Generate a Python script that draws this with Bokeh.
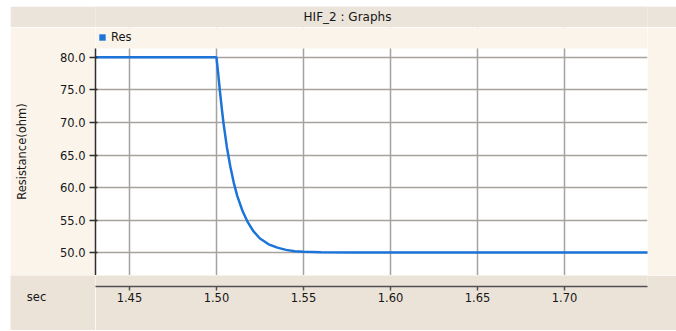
from bokeh.plotting import figure
from bokeh.layouts import column, row
from bokeh.models import Range1d, FixedTicker, Grid, Legend, LegendItem, Spacer
from bokeh.core.properties import value
from bokeh.embed import file_html
from bokeh.resources import INLINE

# ---- data ----
chart_title = "HIF_2 : Graphs"
series_name = "Res"
y_label = "Resistance(ohm)"
x_unit = "sec"

time_s = [1.430, 1.500, 1.501, 1.502, 1.503, 1.504, 1.506, 1.508, 1.510, 1.512,
          1.515, 1.518, 1.521, 1.525, 1.530, 1.535, 1.540, 1.545, 1.550, 1.560,
          1.580, 1.600, 1.650, 1.700, 1.748]
resistance = [80.0, 80.0, 77.5, 74.8, 72.3, 70.0, 66.2, 63.2, 60.7, 58.7,
              56.4, 54.7, 53.4, 52.2, 51.3, 50.8, 50.45, 50.25, 50.15, 50.08,
              50.05, 50.05, 50.05, 50.05, 50.05]

x_ticks = [1.45, 1.50, 1.55, 1.60, 1.65, 1.70]
x_tick_labels = ["1.45", "1.50", "1.55", "1.60", "1.65", "1.70"]
y_ticks = [50, 55, 60, 65, 70, 75, 80]
y_tick_labels = ["50.0", "55.0", "60.0", "65.0", "70.0", "75.0", "80.0"]

x_start, x_end = 1.4305, 1.7477
y_start, y_end = 46.52, 81.33      # white plotting area
y_frame_top = 84.56                # extra band above it, holding the legend

# ---- style ----
FONT_NAME = "DejaVu Sans"
FONT = value(FONT_NAME)
LINE_BLUE = "#1c74d9"
GRID = "#a6a29d"
CREAM = "#fbf4ea"
BEIGE = "#ebe3d8"
TITLEBAR = "#ebe4da"
TXT = "#161616"
W = 666
BL, BR = 85, 29

# ---- title bar ----
tb = figure(width=W, height=21, x_range=(0, 1), y_range=(0, 1),
            x_axis_location=None, y_axis_location=None,
            output_backend="svg", toolbar_location=None,
            min_border_left=BL, min_border_right=BR,
            min_border_top=0, min_border_bottom=0)
tb.outline_line_color = None
tb.background_fill_color = TITLEBAR
tb.border_fill_color = TITLEBAR
tb.xgrid.visible = False
tb.ygrid.visible = False
tb.text(x=[0.4565], y=[0.5], text=[chart_title], text_align="center",
        text_baseline="middle", text_font=FONT, text_font_size="12px",
        text_color=TXT)

# ---- main plot ----
xr = Range1d(x_start, x_end)
p = figure(width=W, height=248, x_range=xr, y_range=Range1d(y_start, y_frame_top),
           x_axis_location=None, y_axis_location="left",
           output_backend="svg", toolbar_location=None,
           min_border_left=BL, min_border_right=BR,
           min_border_top=0, min_border_bottom=0)
p.outline_line_color = None
p.background_fill_color = "white"
p.border_fill_color = CREAM
p.xgrid.visible = False

yax = p.yaxis[0]
yax.bounds = (y_start, y_end)
yax.ticker = FixedTicker(ticks=y_ticks)
yax.major_label_overrides = {t: l for t, l in zip(y_ticks, y_tick_labels)}
yax.minor_tick_line_color = None
yax.major_tick_out = 6
yax.major_tick_in = 2
yax.axis_line_color = "#2e2e2e"
yax.axis_line_width = 1.5
yax.major_tick_line_color = "#2e2e2e"
yax.major_tick_line_width = 1.5
yax.major_label_text_font = FONT_NAME
yax.major_label_text_font_size = "11.5px"
yax.major_label_text_color = TXT
yax.major_label_standoff = 4
yax.axis_label = y_label
yax.axis_label_text_font = FONT_NAME
yax.axis_label_text_font_size = "11.5px"
yax.axis_label_text_font_style = "normal"
yax.axis_label_text_color = TXT
yax.axis_label_standoff = 28

p.ygrid.ticker = FixedTicker(ticks=y_ticks)
p.ygrid.grid_line_color = GRID
p.ygrid.grid_line_width = 1.5
p.add_layout(Grid(dimension=0, ticker=FixedTicker(ticks=x_ticks),
                  grid_line_color=GRID, grid_line_width=1.5))

# cream band above the white plotting area (panel background)
p.quad(left=[x_start], right=[x_end], bottom=[y_end], top=[y_frame_top],
       fill_color=CREAM, line_color=None)

line = p.line(time_s, resistance, line_color=LINE_BLUE, line_width=2.5)
# zero-area proxy so the legend shows a filled square swatch
swatch = p.quad(left=[x_start], right=[x_start], top=[y_start], bottom=[y_start],
                fill_color=LINE_BLUE, line_color=None)

legend = Legend(items=[LegendItem(label=series_name, renderers=[swatch])],
                location="top_left", orientation="horizontal",
                margin=0, padding=3, glyph_width=8, glyph_height=8,
                label_height=14, label_standoff=5, spacing=0,
                label_text_font=FONT_NAME, label_text_font_size="11.5px",
                label_text_color=TXT,
                background_fill_alpha=0, border_line_alpha=0)
p.add_layout(legend)

# ---- x axis strip: unit caption cell + axis cell ----
STRIP_H = 55
cap = figure(width=BL, height=STRIP_H, x_range=(0, 1), y_range=(0, 1),
             x_axis_location=None, y_axis_location=None,
             output_backend="svg", toolbar_location=None, min_border=0)
cap.outline_line_color = None
cap.background_fill_color = BEIGE
cap.border_fill_color = BEIGE
cap.xgrid.visible = False
cap.ygrid.visible = False
cap.text(x=[0.306], y=[0.609], text=[x_unit], text_align="center",
         text_baseline="middle", text_font=FONT, text_font_size="11.5px",
         text_color=TXT)

b = figure(width=W - BL, height=STRIP_H, x_range=xr, y_range=(0, 1),
           x_axis_location="below", y_axis_location=None,
           output_backend="svg", toolbar_location=None,
           min_border_left=0, min_border_right=BR,
           min_border_top=0, min_border_bottom=STRIP_H - 11)
b.outline_line_color = None
b.background_fill_color = BEIGE
b.border_fill_color = BEIGE
b.xgrid.visible = False
b.ygrid.visible = False
xax = b.xaxis[0]
xax.ticker = FixedTicker(ticks=x_ticks)
xax.major_label_overrides = {t: l for t, l in zip(x_ticks, x_tick_labels)}
xax.minor_tick_line_color = None
xax.major_tick_out = 4
xax.major_tick_in = 0
xax.axis_line_color = "#505050"
xax.axis_line_width = 1.5
xax.major_tick_line_color = "#505050"
xax.major_tick_line_width = 1.5
xax.major_label_text_font = FONT_NAME
xax.major_label_text_font_size = "11.5px"
xax.major_label_text_color = TXT
xax.major_label_standoff = 2

strip = row(column(cap, spacing=0), b, spacing=0)
panel = column(tb, p, strip, spacing=0)
layout = column(Spacer(width=676, height=6),
                row(Spacer(width=10, height=324), panel, spacing=0),
                spacing=0)
open("out.html", "w").write(file_html(layout, INLINE))
